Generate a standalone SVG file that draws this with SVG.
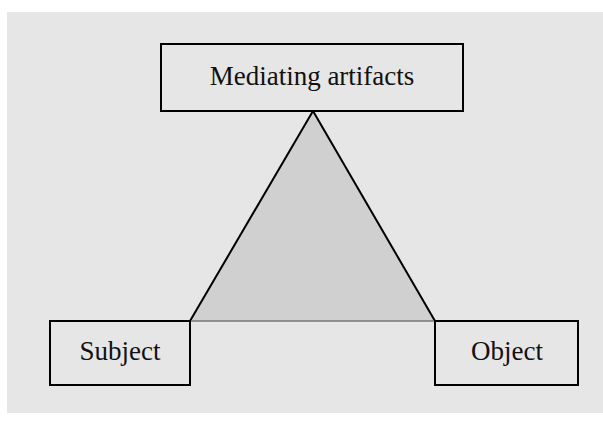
<svg xmlns="http://www.w3.org/2000/svg" width="603" height="423" viewBox="0 0 603 423">
<style>
.box{fill:none;stroke:#000;stroke-width:2}
.lbl{font-family:"Liberation Serif",serif;font-size:27px;fill:#111;text-anchor:middle}
</style>
<rect x="0" y="0" width="603" height="423" fill="#fff"/>
<rect x="7" y="12" width="596" height="401" fill="#e6e6e6"/>
<g id="connectors">
<polygon points="313,111 190,321 435,321" fill="#d0d0d0" stroke="none"/>
<line x1="313" y1="111" x2="190" y2="321" stroke="#000" stroke-width="2"/>
<line x1="313" y1="111" x2="435" y2="321" stroke="#000" stroke-width="2"/>
<line x1="190" y1="321" x2="435" y2="321" stroke="#777" stroke-width="1.5"/>
</g>
<g id="mediating">
<rect class="box" x="161" y="44" width="302" height="67"/>
<text class="lbl" x="312" y="85">Mediating artifacts</text>
</g>
<g id="subject">
<rect class="box" x="50" y="321" width="140" height="64"/>
<text class="lbl" x="120" y="360">Subject</text>
</g>
<g id="object">
<rect class="box" x="435" y="321" width="143" height="64"/>
<text class="lbl" x="507" y="360">Object</text>
</g>
</svg>
